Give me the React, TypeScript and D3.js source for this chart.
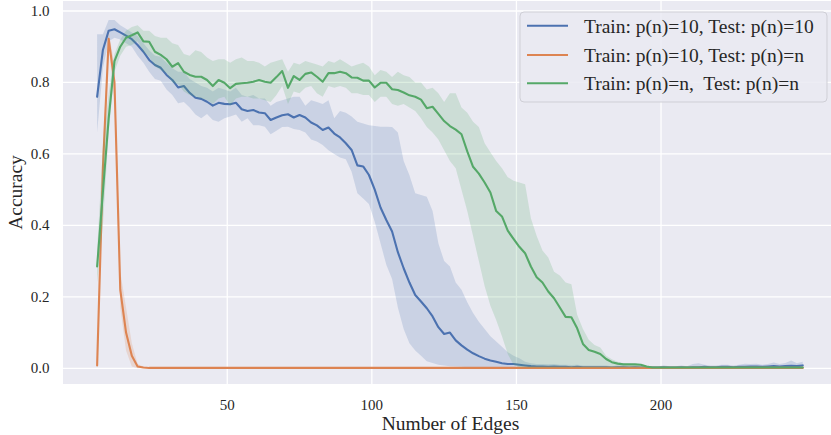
import React from 'react';
import * as d3 from 'd3';

// x positions: number of edges (5, 7, ..., 249)
const EDGES: number[] = d3.range(5, 250, 2);

const SERIES_NAMES = [
  'Train: p(n)=10, Test: p(n)=10',
  'Train: p(n)=10, Test: p(n)=n',
  'Train: p(n)=n,  Test: p(n)=n',
];
const COLORS = ['#4c72b0', '#dd8452', '#55a868'];

const X_TICKS = [50, 100, 150, 200];
const Y_TICKS = [0.0, 0.2, 0.4, 0.6, 0.8, 1.0];

// Series 1: Train p(n)=10, Test p(n)=10
const blueMean = [
  0.760, 0.891, 0.945, 0.949, 0.940, 0.931, 0.921, 0.905, 0.886, 0.863,
  0.849, 0.841, 0.821, 0.807, 0.786, 0.790, 0.771, 0.757, 0.754, 0.746,
  0.735, 0.743, 0.740, 0.739, 0.743, 0.725, 0.720, 0.723, 0.716, 0.714,
  0.695, 0.702, 0.708, 0.711, 0.702, 0.709, 0.702, 0.688, 0.680, 0.667,
  0.674, 0.657, 0.646, 0.630, 0.611, 0.568, 0.565, 0.541, 0.500, 0.450,
  0.415, 0.383, 0.325, 0.280, 0.240, 0.205, 0.187, 0.168, 0.145, 0.115,
  0.096, 0.100, 0.078, 0.064, 0.052, 0.042, 0.034, 0.027, 0.022, 0.018,
  0.014, 0.012, 0.012, 0.010, 0.008, 0.006, 0.005, 0.005, 0.004, 0.005,
  0.004, 0.004, 0.003, 0.004, 0.003, 0.003, 0.003, 0.003, 0.003, 0.002,
  0.003, 0.003, 0.002, 0.003, 0.002, 0.002, 0.002, 0.002, 0.003, 0.002,
  0.002, 0.003, 0.002, 0.003, 0.003, 0.004, 0.003, 0.003, 0.004, 0.004,
  0.003, 0.004, 0.004, 0.005, 0.005, 0.004, 0.005, 0.006, 0.005, 0.006,
  0.007, 0.006, 0.008,
];
const blueHi = [
  0.935, 0.935, 0.975, 0.975, 0.960, 0.950, 0.940, 0.930, 0.910, 0.890,
  0.875, 0.872, 0.855, 0.840, 0.830, 0.830, 0.810, 0.800, 0.790, 0.785,
  0.775, 0.785, 0.780, 0.775, 0.785, 0.765, 0.760, 0.765, 0.755, 0.755,
  0.735, 0.745, 0.750, 0.755, 0.760, 0.760, 0.735, 0.750, 0.745, 0.740,
  0.750, 0.700, 0.720, 0.715, 0.705, 0.690, 0.685, 0.680, 0.678, 0.676,
  0.676, 0.675, 0.660, 0.580, 0.540, 0.490, 0.485, 0.480, 0.440, 0.350,
  0.300, 0.285, 0.240, 0.220, 0.185, 0.155, 0.130, 0.110, 0.090, 0.075,
  0.060, 0.045, 0.035, 0.028, 0.018, 0.014, 0.012, 0.012, 0.011, 0.012,
  0.010, 0.010, 0.009, 0.010, 0.008, 0.008, 0.008, 0.008, 0.008, 0.006,
  0.008, 0.008, 0.006, 0.007, 0.006, 0.006, 0.006, 0.006, 0.008, 0.006,
  0.006, 0.008, 0.006, 0.012, 0.014, 0.010, 0.008, 0.008, 0.010, 0.010,
  0.008, 0.010, 0.013, 0.012, 0.013, 0.010, 0.012, 0.016, 0.012, 0.015,
  0.022, 0.014, 0.018,
];
const blueLo = [
  0.660, 0.840, 0.915, 0.925, 0.920, 0.910, 0.900, 0.875, 0.855, 0.830,
  0.810, 0.805, 0.780, 0.765, 0.742, 0.745, 0.730, 0.710, 0.700, 0.712,
  0.695, 0.690, 0.700, 0.705, 0.710, 0.690, 0.700, 0.680, 0.680, 0.676,
  0.655, 0.665, 0.675, 0.676, 0.670, 0.667, 0.660, 0.640, 0.635, 0.625,
  0.610, 0.600, 0.590, 0.585, 0.550, 0.490, 0.475, 0.460, 0.410, 0.350,
  0.290, 0.250, 0.170, 0.110, 0.070, 0.050, 0.035, 0.020, 0.015, 0.010,
  0.008, 0.006, 0.005, 0.004, 0.003, 0.003, 0.002, 0.002, 0.002, 0.002,
  0.002, 0.002, 0.002, 0.001, 0.001, 0.001, 0.001, 0.001, 0.001, 0.001,
  0.001, 0.001, 0.001, 0.001, 0.001, 0.001, 0.001, 0.001, 0.001, 0.001,
  0.001, 0.001, 0.001, 0.001, 0.001, 0.001, 0.001, 0.001, 0.001, 0.001,
  0.001, 0.001, 0.001, 0.001, 0.001, 0.001, 0.001, 0.001, 0.001, 0.001,
  0.001, 0.001, 0.001, 0.001, 0.001, 0.001, 0.001, 0.001, 0.001, 0.001,
  0.001, 0.001, 0.001,
];

// Series 2: Train p(n)=10, Test p(n)=n
const orangeMean = [
  0.008, 0.560, 0.922, 0.800, 0.220, 0.100, 0.035, 0.005, 0.002, 0.001,
  0.001, 0.001, 0.001, 0.001, 0.001, 0.001, 0.001, 0.001, 0.001, 0.001,
  0.001, 0.001, 0.001, 0.001, 0.001, 0.001, 0.001, 0.001, 0.001, 0.001,
  0.001, 0.001, 0.001, 0.001, 0.001, 0.001, 0.001, 0.001, 0.001, 0.001,
  0.001, 0.001, 0.001, 0.001, 0.001, 0.001, 0.001, 0.001, 0.001, 0.001,
  0.001, 0.001, 0.001, 0.001, 0.001, 0.001, 0.001, 0.001, 0.001, 0.001,
  0.001, 0.001, 0.001, 0.001, 0.001, 0.001, 0.001, 0.001, 0.001, 0.001,
  0.001, 0.001, 0.001, 0.001, 0.001, 0.001, 0.001, 0.001, 0.001, 0.001,
  0.001, 0.001, 0.001, 0.001, 0.001, 0.001, 0.001, 0.001, 0.001, 0.001,
  0.001, 0.001, 0.001, 0.001, 0.001, 0.001, 0.001, 0.001, 0.001, 0.001,
  0.001, 0.001, 0.001, 0.001, 0.001, 0.001, 0.001, 0.001, 0.001, 0.001,
  0.001, 0.001, 0.001, 0.001, 0.001, 0.001, 0.001, 0.001, 0.001, 0.001,
  0.001, 0.001, 0.001,
];
const orangeHi = [
  0.020, 0.620, 0.940, 0.850, 0.270, 0.170, 0.070, 0.012, 0.004, 0.002,
  0.002, 0.002, 0.002, 0.002, 0.002, 0.002, 0.002, 0.002, 0.002, 0.002,
  0.002, 0.002, 0.002, 0.002, 0.002, 0.002, 0.002, 0.002, 0.002, 0.002,
  0.002, 0.002, 0.002, 0.002, 0.002, 0.002, 0.002, 0.002, 0.002, 0.002,
  0.002, 0.002, 0.002, 0.002, 0.002, 0.002, 0.002, 0.002, 0.002, 0.002,
  0.002, 0.002, 0.002, 0.002, 0.002, 0.002, 0.002, 0.002, 0.002, 0.002,
  0.002, 0.002, 0.002, 0.002, 0.002, 0.002, 0.002, 0.002, 0.002, 0.002,
  0.002, 0.002, 0.002, 0.002, 0.002, 0.002, 0.002, 0.002, 0.002, 0.002,
  0.002, 0.002, 0.002, 0.002, 0.002, 0.002, 0.002, 0.002, 0.002, 0.002,
  0.002, 0.002, 0.002, 0.002, 0.002, 0.002, 0.002, 0.002, 0.002, 0.002,
  0.002, 0.002, 0.002, 0.002, 0.002, 0.002, 0.002, 0.002, 0.002, 0.002,
  0.002, 0.002, 0.002, 0.002, 0.002, 0.002, 0.002, 0.002, 0.002, 0.002,
  0.002, 0.002, 0.002,
];
const orangeLo = [
  0.000, 0.500, 0.900, 0.750, 0.170, 0.050, 0.005, 0.000, 0.000, 0.000,
  0.000, 0.000, 0.000, 0.000, 0.000, 0.000, 0.000, 0.000, 0.000, 0.000,
  0.000, 0.000, 0.000, 0.000, 0.000, 0.000, 0.000, 0.000, 0.000, 0.000,
  0.000, 0.000, 0.000, 0.000, 0.000, 0.000, 0.000, 0.000, 0.000, 0.000,
  0.000, 0.000, 0.000, 0.000, 0.000, 0.000, 0.000, 0.000, 0.000, 0.000,
  0.000, 0.000, 0.000, 0.000, 0.000, 0.000, 0.000, 0.000, 0.000, 0.000,
  0.000, 0.000, 0.000, 0.000, 0.000, 0.000, 0.000, 0.000, 0.000, 0.000,
  0.000, 0.000, 0.000, 0.000, 0.000, 0.000, 0.000, 0.000, 0.000, 0.000,
  0.000, 0.000, 0.000, 0.000, 0.000, 0.000, 0.000, 0.000, 0.000, 0.000,
  0.000, 0.000, 0.000, 0.000, 0.000, 0.000, 0.000, 0.000, 0.000, 0.000,
  0.000, 0.000, 0.000, 0.000, 0.000, 0.000, 0.000, 0.000, 0.000, 0.000,
  0.000, 0.000, 0.000, 0.000, 0.000, 0.000, 0.000, 0.000, 0.000, 0.000,
  0.000, 0.000, 0.000,
];

// Series 3: Train p(n)=n, Test p(n)=n
const greenMean = [
  0.285, 0.494, 0.700, 0.860, 0.900, 0.925, 0.932, 0.940, 0.915, 0.914,
  0.886, 0.877, 0.865, 0.844, 0.854, 0.830, 0.821, 0.816, 0.816, 0.807,
  0.790, 0.807, 0.799, 0.784, 0.796, 0.798, 0.799, 0.802, 0.807, 0.802,
  0.799, 0.815, 0.832, 0.785, 0.818, 0.807, 0.824, 0.828, 0.816, 0.802,
  0.826, 0.826, 0.830, 0.826, 0.814, 0.813, 0.805, 0.805, 0.786, 0.799,
  0.799, 0.781, 0.779, 0.772, 0.764, 0.760, 0.752, 0.728, 0.732, 0.712,
  0.692, 0.678, 0.668, 0.655, 0.607, 0.564, 0.545, 0.520, 0.492, 0.440,
  0.425, 0.385, 0.362, 0.340, 0.322, 0.285, 0.255, 0.240, 0.215, 0.196,
  0.170, 0.144, 0.143, 0.112, 0.068, 0.051, 0.046, 0.040, 0.026, 0.017,
  0.013, 0.011, 0.011, 0.011, 0.010, 0.005, 0.002, 0.002, 0.002, 0.002,
  0.002, 0.002, 0.002, 0.002, 0.002, 0.002, 0.002, 0.002, 0.002, 0.002,
  0.002, 0.002, 0.002, 0.002, 0.002, 0.002, 0.002, 0.002, 0.002, 0.002,
  0.002, 0.002, 0.002,
];
const greenHi = [
  0.330, 0.620, 0.770, 0.880, 0.920, 0.945, 0.955, 0.960, 0.945, 0.945,
  0.930, 0.925, 0.925, 0.910, 0.905, 0.880, 0.875, 0.890, 0.885, 0.870,
  0.860, 0.865, 0.865, 0.855, 0.865, 0.870, 0.860, 0.860, 0.855, 0.845,
  0.855, 0.860, 0.865, 0.830, 0.855, 0.850, 0.860, 0.855, 0.850, 0.845,
  0.860, 0.855, 0.865, 0.855, 0.845, 0.850, 0.855, 0.845, 0.820, 0.835,
  0.830, 0.815, 0.830, 0.820, 0.815, 0.800, 0.800, 0.780, 0.785, 0.770,
  0.745, 0.770, 0.770, 0.730, 0.715, 0.690, 0.675, 0.630, 0.605, 0.580,
  0.560, 0.535, 0.525, 0.520, 0.515, 0.420, 0.370, 0.330, 0.310, 0.270,
  0.260, 0.240, 0.235, 0.150, 0.110, 0.080, 0.065, 0.058, 0.035, 0.025,
  0.018, 0.014, 0.013, 0.012, 0.012, 0.007, 0.004, 0.003, 0.003, 0.003,
  0.003, 0.003, 0.003, 0.003, 0.003, 0.003, 0.003, 0.003, 0.003, 0.003,
  0.003, 0.003, 0.003, 0.003, 0.003, 0.003, 0.003, 0.003, 0.003, 0.003,
  0.003, 0.003, 0.003,
];
const greenLo = [
  0.240, 0.400, 0.660, 0.830, 0.875, 0.900, 0.905, 0.915, 0.885, 0.872,
  0.845, 0.835, 0.826, 0.800, 0.795, 0.775, 0.765, 0.760, 0.755, 0.751,
  0.740, 0.755, 0.760, 0.735, 0.755, 0.760, 0.760, 0.755, 0.755, 0.750,
  0.745, 0.765, 0.790, 0.740, 0.775, 0.770, 0.785, 0.790, 0.770, 0.760,
  0.790, 0.785, 0.790, 0.785, 0.770, 0.770, 0.765, 0.765, 0.745, 0.760,
  0.760, 0.740, 0.735, 0.740, 0.730, 0.720, 0.700, 0.675, 0.660, 0.640,
  0.610, 0.580, 0.560, 0.500, 0.440, 0.370, 0.300, 0.230, 0.175, 0.135,
  0.090, 0.040, 0.010, 0.003, 0.002, 0.001, 0.001, 0.001, 0.001, 0.001,
  0.001, 0.001, 0.001, 0.001, 0.001, 0.001, 0.001, 0.001, 0.001, 0.001,
  0.001, 0.001, 0.001, 0.001, 0.001, 0.001, 0.001, 0.001, 0.001, 0.001,
  0.001, 0.001, 0.001, 0.001, 0.001, 0.001, 0.001, 0.001, 0.001, 0.001,
  0.001, 0.001, 0.001, 0.001, 0.001, 0.001, 0.001, 0.001, 0.001, 0.001,
  0.001, 0.001, 0.001,
];

const MEANS = [blueMean, orangeMean, greenMean];
const HIS = [blueHi, orangeHi, greenHi];
const LOS = [blueLo, orangeLo, greenLo];

const FONT = '"Liberation Serif", "Times New Roman", serif';
const TEXT = '#262626';

export default function App() {
  const W = 831;
  const H = 435;
  const L = 63, R = 838, T = 1, B = 384;
  const x = d3.scaleLinear().domain([-6.8, 261.2]).range([L, R]);
  const y = d3.scaleLinear().domain([-0.044, 1.028]).range([B, T]);
  const idx = EDGES.map((_, i) => i);

  const series = SERIES_NAMES.map((name, s) => {
    const area = d3
      .area<number>()
      .x((i) => x(EDGES[i]))
      .y0((i) => y(LOS[s][i]))
      .y1((i) => y(HIS[s][i]));
    const line = d3
      .line<number>()
      .x((i) => x(EDGES[i]))
      .y((i) => y(MEANS[s][i]));
    return { name, color: COLORS[s], area: area(idx) || '', line: line(idx) || '' };
  });

  const legendX = 520, legendY = 12, legendW = 307, legendH = 90;
  const rowY = [25.7, 55, 83.3];

  return (
    <svg
      width={W}
      height={H}
      style={{ position: 'absolute', left: 0, top: 0, background: '#ffffff' }}
      fontFamily={FONT}
    >
      <defs>
        <clipPath id="plotclip">
          <rect x={L} y={T} width={R - L} height={B - T} />
        </clipPath>
      </defs>
      <rect x={L} y={T} width={R - L} height={B - T} fill="#eaeaf2" />
      {Y_TICKS.map((t) => (
        <line key={'gy' + t} x1={L} x2={R} y1={y(t)} y2={y(t)} stroke="#ffffff" strokeWidth={1.3} />
      ))}
      {X_TICKS.map((t) => (
        <line key={'gx' + t} x1={x(t)} x2={x(t)} y1={T} y2={B} stroke="#ffffff" strokeWidth={1.3} />
      ))}
      <g clipPath="url(#plotclip)">
        {series.map((s) => (
          <g key={s.name}>
            <path d={s.area} fill={s.color} fillOpacity={0.2} stroke="none" />
            <path d={s.line} fill="none" stroke={s.color} strokeWidth={2.1} strokeLinejoin="round" strokeLinecap="round" />
          </g>
        ))}
      </g>
      {Y_TICKS.map((t) => (
        <text key={'ty' + t} x={49.5} y={y(t) + 5} textAnchor="end" fontSize={15} fill={TEXT}>
          {d3.format('.1f')(t)}
        </text>
      ))}
      {X_TICKS.map((t) => (
        <text key={'tx' + t} x={x(t)} y={409.5} textAnchor="middle" fontSize={15} fill={TEXT}>
          {t}
        </text>
      ))}
      <text x={(L + R) / 2} y={430} textAnchor="middle" fontSize={19.5} fill={TEXT}>
        Number of Edges
      </text>
      <text
        transform={`translate(21.5, ${(T + B) / 2}) rotate(-90)`}
        textAnchor="middle"
        fontSize={19.5}
        fill={TEXT}
      >
        Accuracy
      </text>
      <rect
        x={legendX}
        y={legendY}
        width={legendW}
        height={legendH}
        rx={4}
        fill="#eaeaf2"
        fillOpacity={0.85}
        stroke="#cfcfd6"
        strokeWidth={1}
      />
      {series.map((s, i) => (
        <g key={'lg' + i}>
          <line x1={527} x2={568} y1={rowY[i]} y2={rowY[i]} stroke={s.color} strokeWidth={2.1} />
          <text x={584} y={rowY[i] + 6.8} fontSize={19.5} fill={TEXT} style={{ whiteSpace: 'pre' }}>
            {s.name}
          </text>
        </g>
      ))}
    </svg>
  );
}
